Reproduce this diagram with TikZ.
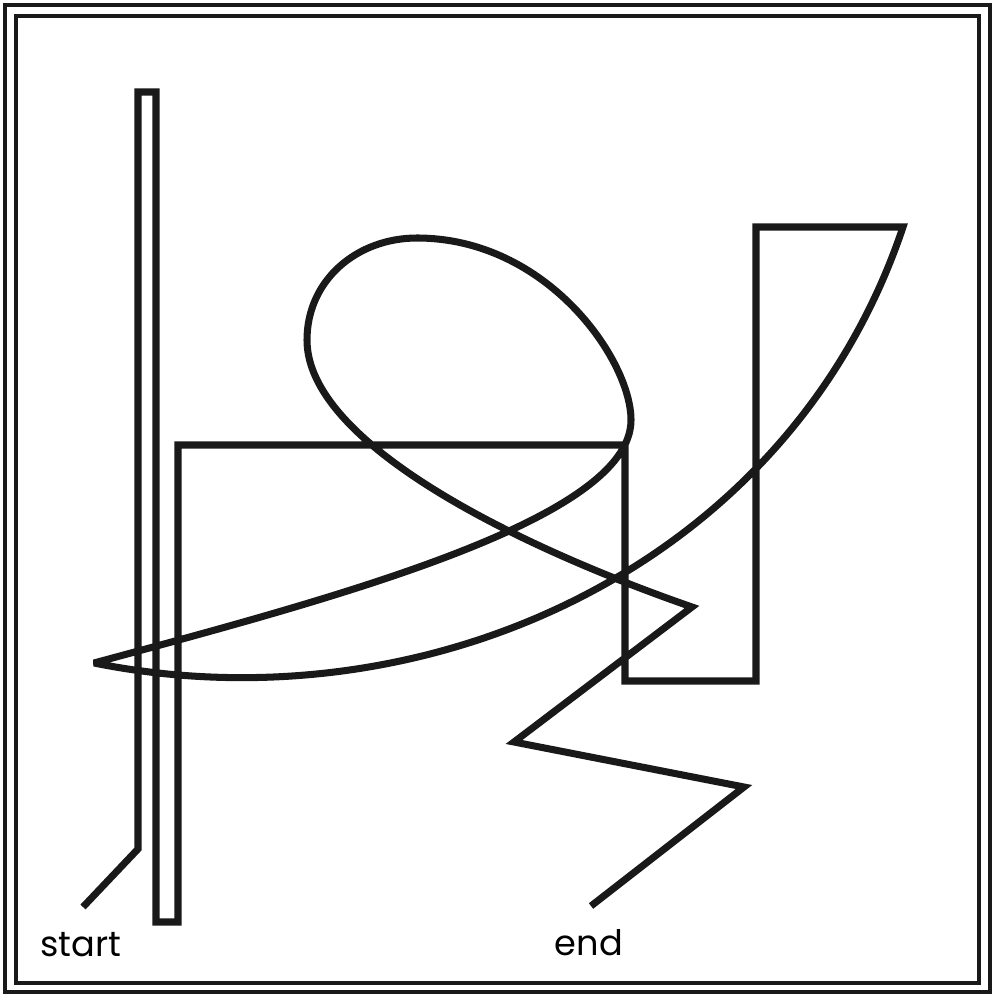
\documentclass[tikz,border=0pt]{standalone}
\usepackage{fontspec}
\setmainfont{Poppins}

\begin{document}
\begin{tikzpicture}[
    x=0.01cm, y=-0.01cm,
    frame/.style = {draw=black!90, line width=1.3pt},
    wire/.style  = {draw=black!90, line width=2pt, miter limit=3},
    tag/.style   = {font=\fontsize{10}{12}\selectfont, inner sep=0pt, anchor=base}
  ]
  \useasboundingbox (0,0) rectangle (994,994);

  % --- double frame ---
  \draw[frame] (5,5) rectangle (990,992);
  \draw[frame] (16,16) rectangle (979,983);

  % --- free ends of the line ---
  \coordinate (start) at (83,907);
  \coordinate (end)   at (591,906);

  % --- one long line from start to end ---
  \draw[wire] (start) -- (138,849) -- (138,92) -- (156,92) -- (156,922)
    -- (178,922) -- (178,445) -- (625,445) -- (625,681) -- (756,681)
    -- (756,227) -- (903,227)
    .. controls (788,570) and (422,729) .. (94,663)
    .. controls (334,598) and (631,520) .. (631,420)
    .. controls (631,360) and (547,238) .. (417,238)
    .. controls (357,238) and (307,280) .. (307,340)
    .. controls (307,440) and (505,542) .. (692,607)
    -- (514,742) -- (744,787) -- (end);

  % --- labels under the two ends ---
  \node[tag] (startlbl) at (81,956) {start};
  \node[tag] (endlbl)   at (589,955) {end};
\end{tikzpicture}
\end{document}
